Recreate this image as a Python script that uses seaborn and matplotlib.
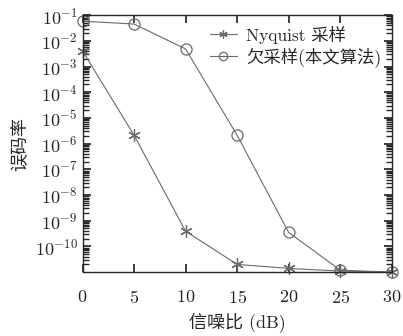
import matplotlib
matplotlib.use("Agg")
import matplotlib.pyplot as plt
import seaborn as sns
from matplotlib.ticker import LogLocator, NullFormatter, FixedLocator

snr_db = [0, 5, 10, 15, 20, 25, 30]
ber_nyquist = [4.0e-3, 2.1e-6, 3.9e-10, 2.0e-11, 1.4e-11, 1.1e-11, 1.0e-11]
ber_under = [5.8e-2, 4.5e-2, 4.8e-3, 2.1e-6, 3.5e-10, 1.2e-11, 1.0e-11]
labels = ["Nyquist 采样", "欠采样(本文算法)"]

sns.set_theme(style="ticks")
plt.rcParams["font.family"] = ["cmr10", "Noto Sans CJK SC"]
plt.rcParams["mathtext.fontset"] = "cm"
plt.rcParams["axes.formatter.use_mathtext"] = True

fig, ax = plt.subplots(figsize=(4.03, 3.36), dpi=100)

gray = "#6a6a6a"
sns.lineplot(x=snr_db, y=ber_nyquist, label=labels[0], color=gray,
             marker=(6, 2, 0), markersize=9, markeredgewidth=0.9,
             markeredgecolor=gray, linewidth=0.8, clip_on=False, ax=ax)
sns.lineplot(x=snr_db, y=ber_under, label=labels[1], color=gray,
             marker="o", markersize=8, markerfacecolor="none",
             markeredgecolor=gray, markeredgewidth=0.9, linewidth=0.8,
             clip_on=False, ax=ax)

ax.set_yscale("log")
ax.set_xlim(0, 30)
ax.set_ylim(1e-11, 1e-1)
ax.set_xticks(snr_db)
ax.yaxis.set_major_locator(FixedLocator([10.0 ** -k for k in range(1, 11)]))
ax.yaxis.set_minor_locator(LogLocator(base=10, subs=range(2, 10), numticks=20))
ax.yaxis.set_minor_formatter(NullFormatter())
ax.tick_params(direction="in", top=True, right=True, which="both", labelsize=13)
ax.tick_params(axis="x", pad=12)
for s in ax.spines.values():
    s.set_linewidth(1.0)

ax.set_xlabel("信噪比 (dB)", fontsize=13, labelpad=5)
ax.set_ylabel("误码率", fontsize=13, family=["Noto Sans CJK SC"], labelpad=4)

leg = ax.legend(loc="upper right", frameon=False, handlelength=1.6,
                borderaxespad=0.2, labelspacing=0.2, handletextpad=0.5,
                prop={"family": ["cmr10", "Noto Sans CJK SC"], "size": 12.5})
for h in leg.legend_handles:
    h.set_markersize(6)

fig.subplots_adjust(left=0.205, right=0.972, top=0.955, bottom=0.19)
fig.savefig("out.png", dpi=100)
